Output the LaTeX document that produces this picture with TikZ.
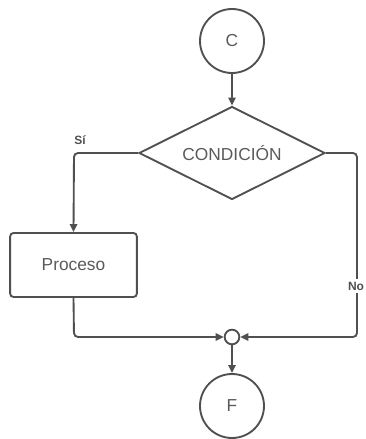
\documentclass[tikz,border=0pt]{standalone}
\usepackage{fontspec}
\setmainfont{Liberation Sans}
\usetikzlibrary{shapes.geometric,arrows.meta}
\definecolor{linegray}{HTML}{505050}
\definecolor{textgray}{HTML}{5A5A5A}
\begin{document}
\begin{tikzpicture}[x=0.75pt,y=-0.75pt,
  conn/.style={draw=linegray,line width=1.4pt,rounded corners=3pt,-{Triangle[length=6pt,width=5.5pt]}},
  termcircle/.style={circle,draw=linegray,line width=1.4pt,minimum size=48pt,inner sep=0pt,text=textgray,font=\fontsize{13}{15}\selectfont},
  decision/.style={diamond,aspect=2,draw=linegray,line width=1.4pt,minimum width=139.5pt,minimum height=69.75pt,inner sep=0pt,text=textgray,font=\fontsize{13}{15}\selectfont},
  procbox/.style={rectangle,rounded corners=2.5pt,draw=linegray,line width=1.4pt,minimum width=95pt,minimum height=48pt,text=textgray,font=\fontsize{13}{15}\selectfont},
  junction/.style={circle,draw=linegray,line width=1.4pt,minimum size=11pt,inner sep=0pt},
  lbl/.style={text=textgray!90!black,font=\bfseries\fontsize{9}{10}\selectfont,inner sep=1pt}
]
\useasboundingbox (0,0) rectangle (365,439);
\node[termcircle] (c) at (232,41) {C};
\node[decision] (cond) at (232,153) {CONDICIÓN};
\node[procbox] (proc) at (73.5,265) {Proceso};
\node[junction] (j) at (232,337) {};
\node[termcircle] (f) at (232,406) {F};
\coordinate (sicorner) at (74,153);
\coordinate (nocorner) at (357,153);
\coordinate (nobottom) at (357,337);
\coordinate (procbottom) at (74,337);
\node[lbl] (si) at (80,140) {Sí};
\draw[conn] (c) -- (cond);
\draw[conn] (cond.west) -- (sicorner) -- (proc.north);
\draw[conn] (cond.east) -- (nocorner) -- (nobottom) -- (j.east);
\draw[conn] (proc.south) -- (procbottom) -- (j.west);
\draw[conn] (j) -- (f);
\node[lbl,fill=white,inner sep=2pt] (no) at (356,286) {No};
\end{tikzpicture}
\end{document}
